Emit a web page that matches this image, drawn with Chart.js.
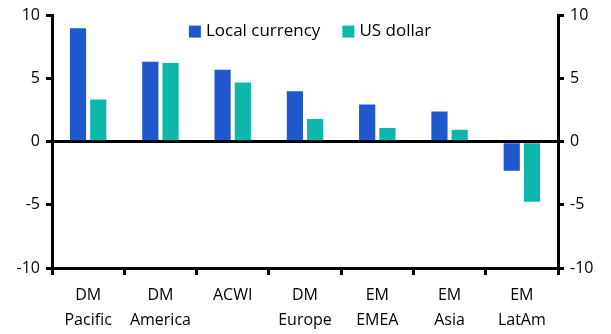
<!DOCTYPE html>
<html>
<head>
<meta charset="utf-8">
<script src="https://cdn.jsdelivr.net/npm/chart.js@4"></script>
<style>
  html, body { margin: 0; padding: 0; background: #fff; }
  #wrap { width: 611px; height: 334px; }
</style>
</head>
<body>
<div id="wrap"><canvas id="chart"></canvas></div>
<script>
const categories = [['DM', 'Pacific'], ['DM', 'America'], ['ACWI'], ['DM', 'Europe'], ['EM', 'EMEA'], ['EM', 'Asia'], ['EM', 'LatAm']];
const localCurrency = [9.0, 6.35, 5.7, 4.0, 2.95, 2.4, -2.3];
const usDollar = [3.35, 6.25, 4.7, 1.8, 1.1, 0.95, -4.75];
const yTicks = [-10, -5, 0, 5, 10];

const font = { family: 'Open Sans', size: 16 };
Chart.defaults.font = font;
Chart.defaults.color = '#000';

// legend drawn inside the plot, near the top
const insideLegend = {
  id: 'insideLegend',
  afterDraw(chart) {
    const ctx = chart.ctx;
    const area = chart.chartArea;
    const sets = chart.data.datasets;
    ctx.save();
    ctx.font = `17px "${font.family}"`;
    ctx.textBaseline = 'middle';
    const box = 12, gap = 5, spacing = 22;
    const widths = sets.map(d => box + gap + ctx.measureText(d.label).width);
    const total = widths.reduce((a, b) => a + b, 0) + spacing * (sets.length - 1);
    let x = (area.left + area.right) / 2 + 5 - total / 2;
    const y = area.top + 16;
    sets.forEach((d, i) => {
      ctx.fillStyle = d.backgroundColor;
      ctx.fillRect(x, y - box / 2, box, box);
      ctx.fillStyle = '#000';
      ctx.fillText(d.label, x + box + gap, y);
      x += widths[i] + spacing;
    });
    ctx.restore();
  }
};

const yScale = (position) => ({
  position,
  min: -10,
  max: 10,
  afterBuildTicks: scale => { scale.ticks = yTicks.map(v => ({ value: v })); },
  afterFit: scale => { scale.width = position === 'left' ? 52 : 53; },
  border: { color: '#000', width: 3 },
  grid: {
    drawOnChartArea: position === 'left',
    color: ctx => ctx.tick && ctx.tick.value === 0 ? '#000' : 'rgba(0,0,0,0)',
    lineWidth: 3,
    tickColor: '#000',
    tickLength: 6,
    tickWidth: 3
  },
  ticks: { padding: 6, font, color: '#000' }
});

new Chart(document.getElementById('chart'), {
  type: 'bar',
  data: {
    labels: categories,
    datasets: [
      { label: 'Local currency', data: localCurrency, backgroundColor: '#1F58CC', yAxisID: 'y' },
      { label: 'US dollar', data: usDollar, backgroundColor: '#0DB8AA', yAxisID: 'y' }
    ]
  },
  options: {
    responsive: true,
    maintainAspectRatio: false,
    animation: false,
    categoryPercentage: 0.56,
    barPercentage: 0.8,
    layout: { padding: { top: 8, left: 0, right: 0, bottom: 0 } },
    plugins: {
      legend: { display: false },
      tooltip: { enabled: false }
    },
    scales: {
      x: {
        afterFit: scale => { scale.height = 66; },
        border: { color: '#000', width: 3 },
        grid: { offset: true, drawOnChartArea: false, color: '#000', tickLength: 7, lineWidth: 3 },
        ticks: { padding: 8, font: { ...font, lineHeight: 1.55 }, color: '#000', maxRotation: 0, autoSkip: false }
      },
      y: yScale('left'),
      y2: yScale('right')
    }
  },
  plugins: [insideLegend]
});
</script>
</body>
</html>
